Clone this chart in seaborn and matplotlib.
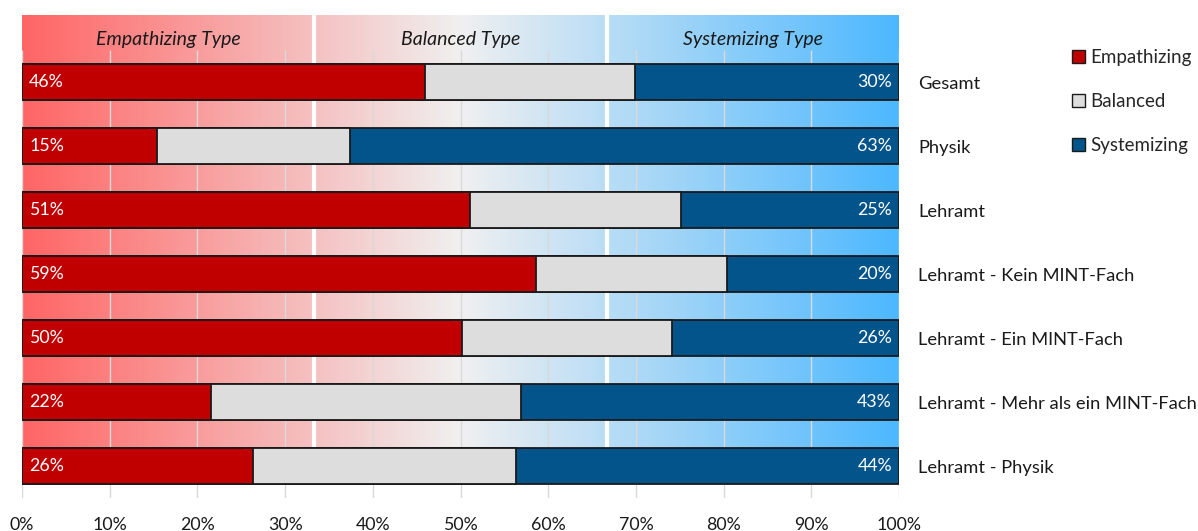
import numpy as np
import pandas as pd
import matplotlib
matplotlib.use("Agg")
import matplotlib.pyplot as plt
from matplotlib.colors import LinearSegmentedColormap
from matplotlib.patches import Patch
import seaborn as sns

categories = ["Gesamt", "Physik", "Lehramt", "Lehramt - Kein MINT-Fach",
              "Lehramt - Ein MINT-Fach", "Lehramt - Mehr als ein MINT-Fach",
              "Lehramt - Physik"]
empathizing = [45.9, 15.4, 51.1, 58.6, 50.2, 21.6, 26.3]
balanced = [24.0, 22.0, 24.0, 21.8, 23.9, 35.3, 30.0]
systemizing = [30.1, 62.6, 24.9, 19.6, 25.9, 43.1, 43.7]
series_names = ["Empathizing", "Balanced", "Systemizing"]
header_labels = ["Empathizing Type", "Balanced Type", "Systemizing Type"]
xticks = [0, 10, 20, 30, 40, 50, 60, 70, 80, 90, 100]

sns.set_theme(style="white")
plt.rcParams["font.family"] = ["Lato", "DejaVu Sans"]

df = pd.DataFrame({"cat": categories, "E": empathizing, "B": balanced, "S": systemizing})
df["EB"] = df["E"] + df["B"]
df["EBS"] = df["EB"] + df["S"]

fig = plt.figure(figsize=(11.98, 5.31), dpi=100)
ax = fig.add_axes([22 / 1198, 33 / 531, 877 / 1198, 483 / 531])

c_e, c_b, c_s = "#C00000", "#DDDDDD", "#02548A"
edge = "#1a1a1a"
bh = 0.5625

# stacked via overlapping cumulative bars
sns.barplot(data=df, y="cat", x="EBS", color=c_s, width=bh, edgecolor=edge,
            linewidth=1.3, orient="h", ax=ax, zorder=3, saturation=1)
sns.barplot(data=df, y="cat", x="EB", color=c_b, width=bh, edgecolor=edge,
            linewidth=1.3, orient="h", ax=ax, zorder=4, saturation=1)
sns.barplot(data=df, y="cat", x="E", color=c_e, width=bh, edgecolor=edge,
            linewidth=1.3, orient="h", ax=ax, zorder=5, saturation=1)

ytop = -1.05
ybot = 6.5
last_top = len(categories) - 1 - bh / 2

# gradient background
cmap = LinearSegmentedColormap.from_list(
    "grad", [(0, "#FF6565"), (0.5, "#F0F0F0"), (1, "#4DB8FF")])
grad = np.linspace(0, 1, 512).reshape(1, -1)
ax.imshow(grad, cmap=cmap, aspect="auto", extent=(0, 100, last_top, ytop),
          zorder=0, interpolation="bilinear")

# gridlines
ax.vlines(xticks, -0.5, ybot, colors="#D9D9D9", linewidth=1, zorder=1)
# separators
ax.vlines([100 / 3, 200 / 3], ytop, last_top, colors="white", linewidth=3, zorder=2)

for i, txt in enumerate(header_labels):
    ax.text(100 / 6 + i * 100 / 3, -0.66, txt, ha="center", va="center",
            fontsize=14, style="italic", color="#1a1a1a", zorder=6)

for i in range(len(categories)):
    ax.text(0.8, i, f"{empathizing[i]:.0f}%", ha="left", va="center",
            color="white", fontsize=12.8, zorder=6)
    ax.text(99.2, i, f"{systemizing[i]:.0f}%", ha="right", va="center",
            color="white", fontsize=12.8, zorder=6)

ax.set_xlim(0, 100)
ax.set_ylim(ybot, ytop)
ax.set_xticks(xticks)
ax.set_xticklabels([f"{t}%" for t in xticks], fontsize=12.8, color="#1a1a1a")
ax.yaxis.tick_right()
ax.set_yticks(range(len(categories)))
ax.set_yticklabels(categories, fontsize=13.2, color="#1a1a1a")
ax.tick_params(axis="y", length=0, pad=14)
ax.tick_params(axis="x", length=0, pad=14)
ax.set_xlabel("")
ax.set_ylabel("")
for s in ax.spines.values():
    s.set_visible(False)
ax.grid(False)

handles = [Patch(facecolor=c, edgecolor=edge, linewidth=1) for c in (c_e, c_b, c_s)]
fig.legend(handles, series_names, loc="upper left", bbox_to_anchor=(1072 / 1198, 1 - 49 / 531),
           frameon=False, fontsize=13.5, handlelength=0.7, handleheight=0.7,
           handletextpad=0.3, labelspacing=1.45, borderaxespad=0, borderpad=0)

fig.savefig("out.png", dpi=100)
